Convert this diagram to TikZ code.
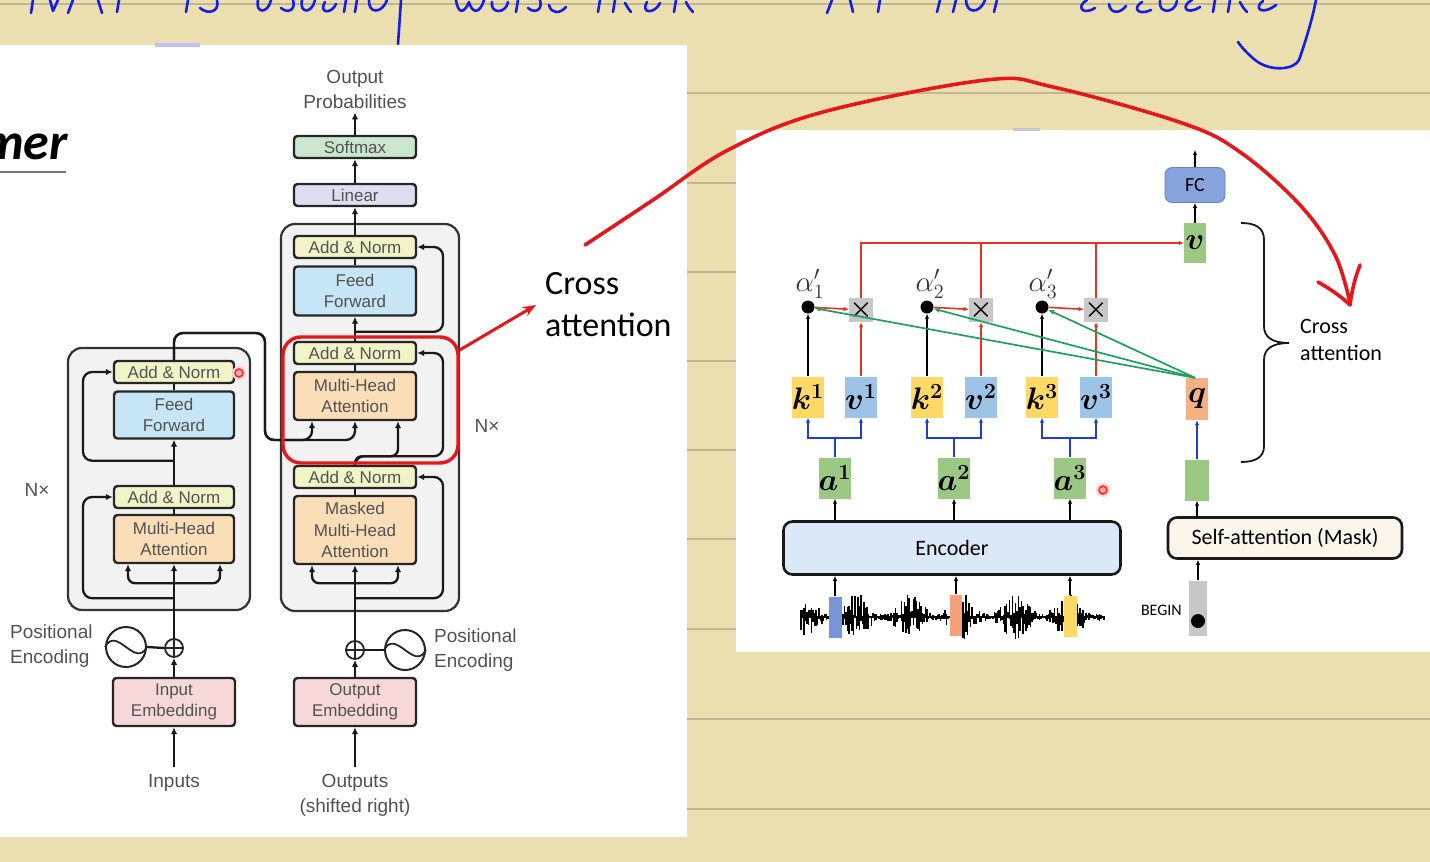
\documentclass[tikz,border=0pt]{standalone}
\usepackage{amsmath,bm}
\usepackage{fontspec}
\setmainfont{Liberation Sans}
\newfontfamily\carl{Carlito}
\usetikzlibrary{arrows.meta,calc}
\newcommand{\mbx}[2][1.5]{\scalebox{#1}{$#2$}}
\definecolor{bgy}{RGB}{235,223,176}
\definecolor{ruleln}{RGB}{192,182,148}
\definecolor{anfill}{RGB}{242,244,200}
\definecolor{fffill}{RGB}{198,229,245}
\definecolor{mhafill}{RGB}{250,222,184}
\definecolor{embfill}{RGB}{246,216,216}
\definecolor{smfill}{RGB}{203,230,207}
\definecolor{linfill}{RGB}{221,222,240}
\definecolor{contfill}{RGB}{242,242,242}
\definecolor{redpen}{RGB}{230,22,27}
\definecolor{bluepen}{RGB}{20,30,230}
\definecolor{kyel}{RGB}{255,217,102}
\definecolor{vblu}{RGB}{157,195,230}
\definecolor{agrn}{RGB}{155,200,130}
\definecolor{qorg}{RGB}{244,177,131}
\definecolor{fcblu}{RGB}{135,163,222}
\definecolor{encblu}{RGB}{218,232,247}
\definecolor{sacream}{RGB}{251,245,236}
\definecolor{xgrey}{RGB}{200,200,200}
\definecolor{grnline}{RGB}{30,160,95}
\definecolor{redline}{RGB}{235,50,30}
\definecolor{blueline}{RGB}{30,60,220}
\definecolor{frblue}{RGB}{120,150,215}
\definecolor{frorange}{RGB}{244,160,120}
\begin{document}
\begin{tikzpicture}[x=1pt,y=-1pt,
  tb/.style={draw=black!85, line width=2.4pt, rounded corners=3.5pt, minimum width=122pt, inner sep=0pt, align=center, text=black!68, font=\fontsize{17}{21.5}\selectfont},
  an/.style={tb, fill=anfill, minimum height=22pt},
  ff/.style={tb, fill=fffill, minimum height=49pt},
  mha/.style={tb, fill=mhafill},
  emb/.style={tb, fill=embfill, minimum height=48pt},
  cont/.style={draw=black!80, fill=contfill, line width=2.2pt, rounded corners=14pt, inner sep=0pt},
  tl/.style={line width=2.3pt, black!90},
  ta/.style={tl, -{Latex[length=7pt,width=6.5pt]}},
  lbl/.style={text=black!68, align=center, font=\fontsize{19}{25}\selectfont, inner sep=0pt},
  pe/.style={circle, draw=black!85, line width=2pt, minimum size=40pt, inner sep=0pt},
  plus/.style={circle, draw=black!85, line width=1.8pt, minimum size=18pt, inner sep=0pt},
  rb/.style={minimum width=22pt, minimum height=41pt, inner sep=0pt, font=\fontsize{20.74}{21}\selectfont},
  kb/.style={rb, fill=kyel},
  vb/.style={rb, fill=vblu},
  ab/.style={rb, fill=agrn, minimum width=24pt},
  dot/.style={circle, fill=black, minimum size=13pt, inner sep=0pt},
  xb/.style={fill=xgrey, minimum size=24pt, inner sep=0pt, font=\fontsize{20.74}{21}\selectfont},
  alab/.style={inner sep=0pt, text=black!80, font=\fontsize{20.74}{21}\selectfont},
  ka/.style={line width=1.6pt, black, -{Latex[length=5pt,width=4.5pt]}},
  ra/.style={line width=1.6pt, redline, -{Latex[length=5pt,width=4.5pt]}},
  rl/.style={line width=1.6pt, redline},
  ga/.style={line width=1.7pt, grnline, -{Latex[length=6pt,width=5pt]}},
  ba/.style={line width=1.8pt, blueline, -{Latex[length=5pt,width=4.5pt]}},
  bigbox/.style={draw=black!90, line width=2.6pt, rounded corners=9pt, inner sep=0pt, font=\carl\fontsize{22}{22}\selectfont},
  pen/.style={line width=3.6pt, line cap=round, line join=round},
  hand/.style={line width=2.6pt, bluepen, line cap=round, line join=round},
  wave/.style={line width=1.1pt, black}
]
\useasboundingbox (0,0) rectangle (1430,862);
\clip (0,0) rectangle (1430,862);
% ---------- notebook background ----------
\fill[bgy] (0,0) rectangle (1430,862);
\foreach \yy in {4,93,183,272,361,450,539,629,719,809}
  \draw[ruleln, line width=1.3pt] (0,\yy) -- (1430,\yy);
\fill[white] (0,45) rectangle (687,837);
\fill[white] (736,130) rectangle (1430,652);
\fill[blue!25!white] (155,43) rectangle (200,47);
\fill[black!22] (1013,128) rectangle (1040,131);

% ---------- handwriting at the top (cut off) ----------
\draw[hand] (33,0) -- (31,13);
\draw[hand] (50,0) -- (53,11) -- (58,0);
\draw[hand] (73,0) -- (68,13);
\draw[hand] (98,0) -- (102,13);
\draw[hand] (119,0) -- (117,12);
\draw[hand] (188,0) -- (186,12);
\draw[hand] (200,8) .. controls (208,15) and (220,12) .. (217,0);
\draw[hand] (258,0) .. controls (255,14) and (268,14) .. (271,0);
\draw[hand] (281,8) .. controls (288,14) and (296,10) .. (293,0);
\draw[hand] (302,0) .. controls (299,14) and (312,14) .. (315,0);
\draw[hand] (325,2) .. controls (318,14) and (332,14) .. (336,4);
\draw[hand] (346,0) -- (344,12);
\draw[hand] (357,0) -- (355,12);
\draw[hand] (369,0) .. controls (368,14) and (382,14) .. (387,0);
\draw[hand] (401,0) .. controls (400,15) and (399,30) .. (398,44);
\draw[hand] (456,0) .. controls (458,14) and (464,14) .. (469,2) .. controls (472,14) and (480,14) .. (484,0);
\draw[hand] (492,2) .. controls (490,14) and (506,14) .. (508,2);
\draw[hand] (518,0) -- (516,12);
\draw[hand] (528,8) .. controls (535,14) and (543,10) .. (540,0);
\draw[hand] (549,5) .. controls (551,14) and (560,14) .. (566,7);
\draw[hand] (600,0) -- (598,12);
\draw[hand] (615,0) -- (613,12);
\draw[hand] (625,3) .. controls (628,8) and (629,10) .. (631,12);
\draw[hand] (647,2) .. controls (640,14) and (655,14) .. (660,3);
\draw[hand] (676,0) -- (674,12);
\draw[hand] (686,2) .. controls (689,8) and (691,10) .. (693,12);
\draw[hand] (832,0) -- (827,13);
\draw[hand] (850,0) -- (853,12);
\draw[hand] (880,0) -- (878,12);
\draw[hand] (940,0) -- (937,12);
\draw[hand] (956,0) -- (953,12);
\draw[hand] (966,0) .. controls (966,14) and (980,14) .. (985,0);
\draw[hand] (997,0) -- (994,12);
\draw[hand] (1087,0) .. controls (1076,6) and (1082,16) .. (1095,8);
\draw[hand] (1109,4) .. controls (1110,14) and (1120,14) .. (1126,6);
\draw[hand] (1142,2) .. controls (1132,8) and (1138,16) .. (1151,10);
\draw[hand] (1160,1) .. controls (1158,14) and (1175,14) .. (1177,1);
\draw[hand] (1192,0) .. controls (1180,6) and (1186,16) .. (1200,7);
\draw[hand] (1215,0) -- (1213,12);
\draw[hand] (1230,0) -- (1228,12);
\draw[hand] (1240,2) .. controls (1243,8) and (1245,10) .. (1247,12);
\draw[hand] (1263,1) .. controls (1253,8) and (1262,16) .. (1276,5);
\draw[hand] (1316,0) .. controls (1312,20) and (1306,40) .. (1299,60) .. controls (1294,70) and (1270,72) .. (1255,60) .. controls (1248,54) and (1242,48) .. (1238,42);

% ---------- left slide : Transformer ----------
\node[anchor=base east, inner sep=0pt, font=\carl\bfseries\itshape\fontsize{52}{52}\selectfont] (mer) at (68,159) {mer};
\draw[black!55, line width=2pt] (0,172) -- (66,172);

\node[cont, minimum width=182pt, minimum height=262pt] (encC) at (159,479) {};
\node[cont, minimum width=178pt, minimum height=387pt] (decC) at (370,417.5) {};

\node[lbl] (outprob) at (355,89) {Output\\Probabilities};
\node[tb, fill=smfill, minimum height=22pt] (soft) at (355,147) {Softmax};
\node[tb, fill=linfill, minimum height=22pt] (lin) at (355,195) {Linear};
\node[an] (dAN3) at (355,247) {Add \& Norm};
\node[ff] (dFF) at (355,291) {Feed\\Forward};
\node[an] (dAN2) at (355,353) {Add \& Norm};
\node[mha, minimum height=48pt] (dMHA) at (355,396) {Multi-Head\\Attention};
\node[an] (dAN1) at (355,477) {Add \& Norm};
\node[mha, minimum height=68pt] (dMMHA) at (355,530) {Masked\\Multi-Head\\Attention};
\node[emb] (oEmb) at (355,702) {Output\\Embedding};
\node[plus] (dplus) at (355,650) {};
\node[pe] (dsin) at (405,650) {};
\node[lbl, align=left, anchor=west] (dpel) at (434,650) {Positional\\Encoding};
\node[lbl] (outs) at (355,795) {Outputs\\(shifted right)};
\node[lbl] (dnx) at (487,426) {N×};

\node[an, minimum width=120pt] (eAN2) at (174,372) {Add \& Norm};
\node[ff, minimum width=120pt, minimum height=47pt] (eFF) at (174,415) {Feed\\Forward};
\node[an, minimum width=120pt] (eAN1) at (174,497) {Add \& Norm};
\node[mha, minimum width=120pt, minimum height=48pt] (eMHA) at (174,539) {Multi-Head\\Attention};
\node[emb] (iEmb) at (174,702) {Input\\Embedding};
\node[plus] (eplus) at (174,648) {};
\node[pe] (esin) at (126,647) {};
\node[lbl, align=left, anchor=west] (epel) at (10,646) {Positional\\Encoding};
\node[lbl] (ins) at (174,783) {Inputs};
\node[lbl] (enx) at (37,490) {N×};

% plus signs and sine waves
\draw[line width=1.6pt, black!85] (dplus.north) -- (dplus.south) (dplus.west) -- (dplus.east);
\draw[line width=1.6pt, black!85] (eplus.north) -- (eplus.south) (eplus.west) -- (eplus.east);
\draw[line width=1.8pt, black!85] (dsin.west) .. controls ([xshift=12pt,yshift=22pt]dsin.west) and ([xshift=-12pt,yshift=-22pt]dsin.east) .. (dsin.east);
\draw[line width=1.8pt, black!85] (esin.west) .. controls ([xshift=12pt,yshift=22pt]esin.west) and ([xshift=-12pt,yshift=-22pt]esin.east) .. (esin.east);

% encoder connectors
\draw[ta] ([yshift=7pt]ins.north) -- (iEmb.south);
\draw[ta] (iEmb.north) -- (eplus.south);
\draw[tl] (eplus.west) -- (esin.east);
\draw[ta] (eplus.north) -- (eMHA.south);
\draw[ta, rounded corners=7pt] ([yshift=-19pt]eMHA.south) -| ([xshift=-46pt]eMHA.south);
\draw[ta, rounded corners=7pt] ([yshift=-19pt]eMHA.south) -| ([xshift=46pt]eMHA.south);
\draw[ta, rounded corners=9pt] ([yshift=-34pt]eMHA.south) -| ([xshift=-91pt]eAN1.center) -- (eAN1.west);
\draw[tl] (eMHA.north) -- (eAN1.south);
\draw[ta] (eAN1.north) -- (eFF.south);
\draw[ta, rounded corners=9pt] ([yshift=-21pt]eFF.south) -| ([xshift=-91pt]eAN2.center) -- (eAN2.west);
\draw[tl] (eFF.north) -- (eAN2.south);
\draw[ta, rounded corners=9pt] (eAN2.north) |- (265,333) -- (265,440) -| ([xshift=-43pt]dMHA.south);
\draw[ta, rounded corners=9pt] (eAN2.north) |- (265,333) -- (265,440) -| (dMHA.south);

% decoder connectors
\draw[ta] ([yshift=7pt]outs.north) -- (oEmb.south);
\draw[ta] (oEmb.north) -- (dplus.south);
\draw[tl] (dplus.east) -- (dsin.west);
\draw[ta] (dplus.north) -- (dMMHA.south);
\draw[ta, rounded corners=7pt] ([yshift=-18pt]dMMHA.south) -| ([xshift=-43pt]dMMHA.south);
\draw[ta, rounded corners=7pt] ([yshift=-18pt]dMMHA.south) -| ([xshift=43pt]dMMHA.south);
\draw[ta, rounded corners=9pt] ([yshift=-33pt]dMMHA.south) -| ([xshift=88pt]dAN1.center) -- (dAN1.east);
\draw[tl] (dMMHA.north) -- (dAN1.south);
\draw[ta, rounded corners=7pt] (dAN1.north) |- ([xshift=43pt,yshift=-35pt]dMHA.south) -- ([xshift=43pt]dMHA.south);
\draw[ta, rounded corners=9pt] (dAN1.north) |- ([xshift=88pt,yshift=-35pt]dMHA.south) -- ([xshift=88pt]dAN2.center) -- (dAN2.east);
\draw[tl] (dMHA.north) -- (dAN2.south);
\draw[ta] (dAN2.north) -- (dFF.south);
\draw[ta, rounded corners=9pt] ([yshift=9pt]dAN2.north) -| ([xshift=88pt]dAN3.center) -- (dAN3.east);
\draw[tl] (dFF.north) -- (dAN3.south);
\draw[ta] (dAN3.north) -- (lin.south);
\draw[ta] (lin.north) -- (soft.south);
\draw[ta] (soft.north) -- ([yshift=-4pt]outprob.south);

% laser pointer dot
\fill[red!18] (239,373) circle (7);
\node[circle, draw=red!85, line width=1.5pt, fill=red!30, minimum size=8pt, inner sep=0pt] (laser1) at (239,373) {};

% red highlight + label
\node[draw=redpen, line width=3.4pt, rounded corners=18pt, minimum width=175pt, minimum height=126pt, inner sep=0pt] (crossbox) at (370.5,400) {};
\node[anchor=west, align=left, inner sep=0pt, font=\carl\fontsize{34}{42}\selectfont] (crossL) at (545,305) {Cross\\attention};
\draw[redpen, line width=3pt, -{Stealth[length=13pt,width=10pt]}] ([yshift=50pt]crossbox.east) -- ([xshift=-9pt]crossL.west);

% ---------- right slide : cross attention ----------
\node[draw=fcblu!80!black, line width=0.8pt, fill=fcblu, rounded corners=7pt, minimum width=60pt, minimum height=35pt, inner sep=0pt, font=\carl\fontsize{20}{20}\selectfont] (fc) at (1195,185) {FC};
\coordinate (fctop) at (1195,150);
\node[rb, fill=agrn, minimum height=40pt] (vout) at (1195,243) {\mbx{\bm{v}}};
\draw[ka] (vout.north) -- (fc.south);
\draw[ka] (fc.north) -- (fctop);

\node[alab] (al1) at (810,284) {\mbx[1.4]{\alpha'_1}};
\node[alab] (al2) at (930,284) {\mbx[1.4]{\alpha'_2}};
\node[alab] (al3) at (1043,284) {\mbx[1.4]{\alpha'_3}};
\node[dot] (d1) at (808,307) {};
\node[dot] (d2) at (927,307) {};
\node[dot] (d3) at (1042,307) {};
\node[xb] (x1) at (861,310) {\mbx[1.25]{\bm{\times}}};
\node[xb] (x2) at (981,310) {\mbx[1.25]{\bm{\times}}};
\node[xb] (x3) at (1096,310) {\mbx[1.25]{\bm{\times}}};

\node[kb] (k1) at (808,397) {\mbx{\bm{k^1}}};
\node[vb] (v1) at (861,397) {\mbx{\bm{v^1}}};
\node[kb] (k2) at (927,397) {\mbx{\bm{k^2}}};
\node[vb] (v2) at (981,397) {\mbx{\bm{v^2}}};
\node[kb] (k3) at (1042,397) {\mbx{\bm{k^3}}};
\node[vb] (v3) at (1096,397) {\mbx{\bm{v^3}}};
\node[rb, fill=qorg, minimum height=42pt] (q) at (1197,399) {\mbx{\bm{q}}};

\node[ab] (a1) at (835,478) {\mbx{\bm{a^1}}};
\node[ab] (a2) at (954,478) {\mbx{\bm{a^2}}};
\node[ab] (a3) at (1070,478) {\mbx{\bm{a^3}}};
\node[rb, fill=agrn, minimum width=24pt] (g) at (1197,480) {};

\node[bigbox, fill=encblu, minimum width=337pt, minimum height=53pt] (enc) at (952,548) {Encoder};
\node[bigbox, fill=sacream, minimum width=234pt, minimum height=41pt] (sa) at (1285,538) {Self-attention (Mask)};

% waveform
\pgfmathsetseed{4242}
\draw[wave] (801,617) -- (1105,617);
\foreach \i in {0,...,202} {
  \pgfmathsetmacro\xx{801+1.5*\i}
  \pgfmathsetmacro\env{3+20*(abs(sin((\xx-830)*3.4)))^2}
  \pgfmathsetmacro\ua{\env*rnd}
  \pgfmathsetmacro\ub{\env*rnd}
  \draw[wave] (\xx,617-\ua) -- (\xx,617+\ub);
}
\node[fill=frblue, minimum width=13pt, minimum height=41pt, inner sep=0pt] (fr1) at (835,617) {};
\node[fill=frorange, minimum width=12pt, minimum height=41pt, inner sep=0pt] (fr2) at (956,615) {};
\node[fill=kyel, minimum width=13pt, minimum height=41pt, inner sep=0pt] (fr3) at (1070,616) {};

\node[fill=black!22, minimum width=18pt, minimum height=55pt, inner sep=0pt] (bg) at (1198,608) {};
\node[dot, minimum size=14pt] (bgdot) at (1198,621) {};
\node[anchor=east, inner sep=0pt, font=\carl\fontsize{16}{16}\selectfont] (bglbl) at (1182,610) {BEGIN};

% right connectors
\draw[ka] (fr1.north) -- (fr1.north |- enc.south);
\draw[ka] (fr2.north) -- (fr2.north |- enc.south);
\draw[ka] (fr3.north) -- (fr3.north |- enc.south);
\draw[ka] (a1.south |- enc.north) -- (a1.south);
\draw[ka] (a2.south |- enc.north) -- (a2.south);
\draw[ka] (a3.south |- enc.north) -- (a3.south);
\draw[ka] (bg.north) -- (bg.north |- sa.south);
\draw[ka] (g.south |- sa.north) -- (g.south);
\draw[ba] (g.north) -- (q.south);

\draw[ba] (a1.north) |- ([yshift=-20pt]k1.south) -- (k1.south);
\draw[ba] (a1.north) |- ([yshift=-20pt]v1.south) -- (v1.south);
\draw[ba] (a2.north) |- ([yshift=-20pt]k2.south) -- (k2.south);
\draw[ba] (a2.north) |- ([yshift=-20pt]v2.south) -- (v2.south);
\draw[ba] (a3.north) |- ([yshift=-20pt]k3.south) -- (k3.south);
\draw[ba] (a3.north) |- ([yshift=-20pt]v3.south) -- (v3.south);

\draw[ka] (k1) -- (d1);
\draw[ka] (k2) -- (d2);
\draw[ka] (k3) -- (d3);
\draw[ra] (v1) -- (x1);
\draw[ra] (v2) -- (x2);
\draw[ra] (v3) -- (x3);
\draw[ra] (d1) -- (x1);
\draw[ra] (d2) -- (x2);
\draw[ra] (d3) -- (x3);
\draw[ra] (x1.north) |- (vout.west);
\draw[rl] (x2.north) -- (x2.north |- vout.west);
\draw[rl] (x3.north) -- (x3.north |- vout.west);
\draw[ga] ([xshift=-2pt]q.north) -- (d1);
\draw[ga] ([xshift=-2pt]q.north) -- (d2);
\draw[ga] ([xshift=-2pt]q.north) -- (d3);

% brace and label
\draw[line width=1.8pt, black!90] (1241,223) .. controls (1256,223) and (1264,228) .. (1264,240) -- (1264,326) .. controls (1264,337) and (1272,343) .. (1289,343) .. controls (1272,343) and (1264,349) .. (1264,360) -- (1264,446) .. controls (1264,457) and (1256,462) .. (1241,462);
\node[anchor=west, align=left, inner sep=0pt, font=\carl\fontsize{22}{27}\selectfont] (crossR) at (1300,340) {Cross\\attention};

% laser pointer dot (right)
\fill[red!18] (1103,490) circle (7);
\node[circle, draw=red!85, line width=1.5pt, fill=red!30, minimum size=8pt, inner sep=0pt] (laser2) at (1103,490) {};

% ---------- red handwritten arrow ----------
\draw[pen, redpen] plot[smooth, tension=0.6] coordinates {(585,245) (653,200) (728,150) (823,112) (986,80) (1053,87) (1182,123) (1240,152) (1300,205) (1335,255) (1350,303)};
\draw[pen, redpen] (1318,282) .. controls (1332,290) and (1343,298) .. (1350,305) .. controls (1352,290) and (1355,278) .. (1360,265);
\end{tikzpicture}
\end{document}
